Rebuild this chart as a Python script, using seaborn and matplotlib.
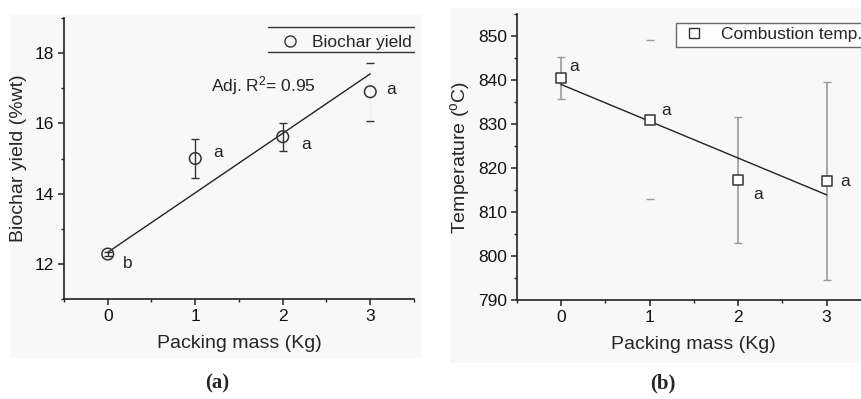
import numpy as np
import pandas as pd
import matplotlib
matplotlib.use("Agg")
import matplotlib.pyplot as plt
from matplotlib.patches import Rectangle
from matplotlib.lines import Line2D
from matplotlib.ticker import MultipleLocator
import seaborn as sns

# ---- data ----
packing_mass = [0, 1, 2, 3]
biochar_yield = [12.28, 15.0, 15.62, 16.9]
biochar_err = [0.05, 0.55, 0.40, 0.83]
biochar_letters = ["b", "a", "a", "a"]
biochar_fit_x = [0, 3]
biochar_fit_y = [12.33, 17.41]
biochar_r2 = "Adj. R$^2$= 0.95"

comb_temp = [840.5, 831.0, 817.3, 817.0]
comb_err = [4.8, 18.0, 14.3, 22.5]
comb_letters = ["a", "a", "a", "a"]
comb_fit_x = [0, 3]
comb_fit_y = [839.0, 813.9]

sns.set_style("ticks")
plt.rcParams["font.family"] = ["Liberation Sans", "DejaVu Sans"]
plt.rcParams["mathtext.fontset"] = "custom"
plt.rcParams["mathtext.rm"] = "Liberation Sans"
plt.rcParams["mathtext.it"] = "Liberation Sans"

W, H = 862, 399
fig = plt.figure(figsize=(W / 100, H / 100), dpi=100)
fig.patch.set_facecolor("white")

# light grey panels behind each sub-figure
fig.patches.append(Rectangle((10 / W, 1 - 358 / H), 412 / W, 343 / H,
                             transform=fig.transFigure, facecolor="#f8f8f8",
                             edgecolor="none", zorder=-10))
fig.patches.append(Rectangle((450 / W, 1 - 363 / H), 420 / W, 355 / H,
                             transform=fig.transFigure, facecolor="#f8f8f8",
                             edgecolor="none", zorder=-10))

axA = fig.add_axes([64 / W, 1 - 299 / H, 350 / W, 281 / H])
axB = fig.add_axes([516.7 / W, 1 - 300 / H, 354.2 / W, 286 / H])

TICK_FS = 12.5
LAB_FS = 14
ANN_FS = 12.5

def style_axis(ax):
    ax.set_facecolor("none")
    for s in ["top", "right"]:
        ax.spines[s].set_visible(False)
    for s in ["left", "bottom"]:
        ax.spines[s].set_color("#222222")
        ax.spines[s].set_linewidth(1.2)
    ax.tick_params(which="major", direction="out", length=4, width=1.1,
                   color="#222222", labelsize=TICK_FS, pad=3, labelcolor="#111111")
    ax.tick_params(which="minor", direction="out", length=2.5, width=1.0,
                   color="#222222")
    ax.xaxis.set_major_locator(MultipleLocator(1))
    ax.xaxis.set_minor_locator(MultipleLocator(0.5))
    ax.set_xlim(-0.5, 3.5)
    ax.set_xlabel("Packing mass (Kg)", fontsize=LAB_FS, labelpad=8)

# ---- panel (a) ----
dfA = pd.DataFrame({"x": packing_mass, "y": biochar_yield})
cont = axA.errorbar(packing_mass, biochar_yield, yerr=biochar_err, fmt="none",
                    ecolor="#333333", elinewidth=1.0, capsize=3, capthick=1.0,
                    zorder=2)
cont.lines[2][0].set_colors(["#333333", "#333333", "#333333", "#f2f2f2"])
for cl in cont.lines[1]:
    cl.set_color("#555555")
sns.lineplot(x=biochar_fit_x, y=biochar_fit_y, ax=axA, color="#222222",
             linewidth=1.0, zorder=3)
sns.scatterplot(data=dfA, x="x", y="y", ax=axA, marker="o", s=70,
                facecolor="none", edgecolor="#333333", linewidth=1.1,
                zorder=4, legend=False)
axA.set_ylim(11, 19)
axA.yaxis.set_major_locator(MultipleLocator(2))
axA.yaxis.set_minor_locator(MultipleLocator(1))
style_axis(axA)
axA.set_ylabel("Biochar yield (%wt)", fontsize=LAB_FS, labelpad=6)
offsA = [(0.23, -0.28), (0.26, 0.16), (0.27, -0.21), (0.24, 0.07)]
for xi, yi, lt, (dx, dy) in zip(packing_mass, biochar_yield, biochar_letters, offsA):
    axA.text(xi + dx, yi + dy, lt, fontsize=ANN_FS, ha="center", va="center")
axA.text(1.18, 17.07, biochar_r2, fontsize=ANN_FS, ha="left", va="center")
legA = axA.legend(handles=[Line2D([], [], marker="o", linestyle="none",
                                  markerfacecolor="none", markeredgecolor="#333333",
                                  markersize=8, markeredgewidth=1.0)],
                  labels=["Biochar yield"], loc="upper right",
                  bbox_to_anchor=(1.034, 0.99), frameon=False, fontsize=ANN_FS,
                  handletextpad=0.7, borderpad=0.3, handlelength=1.2)
axA.add_line(Line2D([0.583, 1.0], [0.968, 0.968], transform=axA.transAxes,
                    color="#333333", linewidth=1.0, clip_on=False))
axA.add_line(Line2D([0.583, 1.0], [0.879, 0.879], transform=axA.transAxes,
                    color="#333333", linewidth=1.0, clip_on=False))

# ---- panel (b) ----
dfB = pd.DataFrame({"x": packing_mass, "y": comb_temp})
contB = axB.errorbar(packing_mass, comb_temp, yerr=comb_err, fmt="none",
                     ecolor="#9a9a9a", elinewidth=1.2, capsize=3, capthick=1.0,
                     zorder=2)
contB.lines[2][0].set_colors(["#9a9a9a", "#f6f6f6", "#9a9a9a", "#9a9a9a"])
for cl in contB.lines[1]:
    cl.set_color("#aaaaaa")
sns.lineplot(x=comb_fit_x, y=comb_fit_y, ax=axB, color="#222222",
             linewidth=1.0, zorder=3)
sns.scatterplot(data=dfB, x="x", y="y", ax=axB, marker="s", s=60,
                facecolor="white", edgecolor="#333333", linewidth=1.1,
                zorder=4, legend=False)
axB.set_ylim(790, 855)
axB.yaxis.set_major_locator(MultipleLocator(10))
axB.yaxis.set_minor_locator(MultipleLocator(5))
style_axis(axB)
axB.set_ylabel("Temperature ($^{\\mathrm{o}}$C)", fontsize=LAB_FS, labelpad=4)
offsB = [(0.15, 2.6), (0.19, 2.0), (0.23, -3.3), (0.21, -0.1)]
for xi, yi, lt, (dx, dy) in zip(packing_mass, comb_temp, comb_letters, offsB):
    axB.text(xi + dx, yi + dy, lt, fontsize=ANN_FS, ha="center", va="center")
legB = axB.legend(handles=[Line2D([], [], marker="s", linestyle="none",
                                  markerfacecolor="white", markeredgecolor="#333333",
                                  markersize=7, markeredgewidth=1.0)],
                  labels=["Combustion temp."], loc="upper left",
                  bbox_to_anchor=(0.426, 1.0), frameon=True, fontsize=ANN_FS,
                  handletextpad=0.8, borderpad=0.25, handlelength=1.5,
                  fancybox=False)
legB.get_frame().set_edgecolor("#444444")
legB.get_frame().set_linewidth(1.0)
legB.get_frame().set_facecolor("white")

# captions
fig.text(217 / W, 1 - 383 / H, "(a)", fontsize=15, fontweight="bold",
         family=["Liberation Serif", "DejaVu Serif"], ha="center", va="center")
fig.text(663 / W, 1 - 383 / H, "(b)", fontsize=15, fontweight="bold",
         family=["Liberation Serif", "DejaVu Serif"], ha="center", va="center")

fig.savefig("out.png", dpi=100)
